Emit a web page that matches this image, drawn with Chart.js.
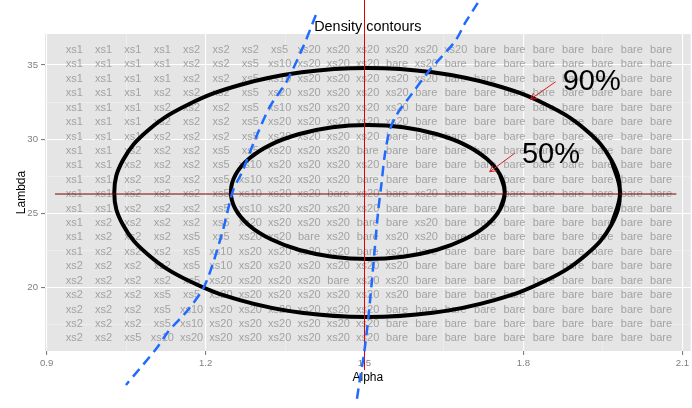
<!DOCTYPE html>
<html><head><meta charset="utf-8">
<script src="https://cdn.jsdelivr.net/npm/chart.js@4.4.1/dist/chart.umd.min.js"></script>
<style>html,body{margin:0;padding:0;background:#fff;}canvas{display:block;}</style>
</head><body>
<canvas id="c" width="692" height="408"></canvas>
<script>
// ---------- data ----------
const chartTitle = 'Density contours';
const xAxisTitle = 'Alpha';
const yAxisTitle = 'Lambda';
const xMin = 0.8968, xMax = 2.1157, yMin = 15.737, yMax = 37.088;
const xMajorTicks = [0.9, 1.2, 1.5, 1.8, 2.1];
const xTickLabels = ['0.9', '1.2', '1.5', '1.8', '2.1'];
const xMinorTicks = [1.05, 1.35, 1.65, 1.95];
const yMajorTicks = [20, 25, 30, 35];
const yTickLabels = ['20', '25', '30', '35'];
const yMinorTicks = [17.5, 22.5, 27.5, 32.5];

// grid of model labels (columns = alpha, rows = lambda, top row first)
const alphaGrid = [0.952, 1.0074, 1.0628, 1.1182, 1.1736, 1.2290, 1.2844, 1.3398, 1.3952, 1.4506, 1.5060,
  1.5614, 1.6168, 1.6722, 1.7276, 1.7830, 1.8384, 1.8938, 1.9492, 2.0046, 2.0600];
const lambdaGrid = [36.01, 35.04, 34.07, 33.10, 32.13, 31.16, 30.18, 29.21, 28.24, 27.27, 26.30,
  25.33, 24.36, 23.39, 22.42, 21.45, 20.47, 19.50, 18.53, 17.56, 16.59];
const modelLabels = [
  'xs1 xs1 xs1 xs1 xs2 xs2 xs2 xs5 xs20 xs20 xs20 xs20 xs20 xs20 bare bare bare bare bare bare bare',
  'xs1 xs1 xs1 xs1 xs2 xs2 xs5 xs10 xs20 xs20 xs20 bare xs20 bare bare bare bare bare bare bare bare',
  'xs1 xs1 xs1 xs1 xs2 xs2 xs5 xs10 xs20 xs20 xs20 xs20 xs20 bare bare bare bare bare bare bare bare',
  'xs1 xs1 xs1 xs2 xs2 xs2 xs5 xs20 xs20 xs20 xs20 xs20 bare bare bare bare bare bare bare bare bare',
  'xs1 xs1 xs1 xs2 xs2 xs2 xs5 xs10 xs20 xs20 xs20 xs20 bare bare bare bare bare bare bare bare bare',
  'xs1 xs1 xs1 xs2 xs2 xs2 xs5 xs20 xs20 xs20 xs20 xs20 bare bare bare bare bare bare bare bare bare',
  'xs1 xs1 xs1 xs2 xs2 xs2 xs5 xs20 xs20 xs20 xs20 bare bare bare bare bare bare bare bare bare bare',
  'xs1 xs1 xs2 xs2 xs2 xs5 xs5 xs20 xs20 xs20 bare bare bare bare bare bare bare bare bare bare bare',
  'xs1 xs1 xs2 xs2 xs2 xs5 xs10 xs20 xs20 xs20 xs20 bare bare bare bare bare bare bare bare bare bare',
  'xs1 xs1 xs2 xs2 xs2 xs5 xs10 xs20 xs20 xs20 bare bare bare bare bare bare bare bare bare bare bare',
  'xs1 xs1 xs2 xs2 xs2 xs5 xs10 xs20 xs20 bare xs20 bare xs20 bare bare bare bare bare bare bare bare',
  'xs1 xs1 xs2 xs2 xs2 xs5 xs10 xs20 xs20 xs20 xs20 bare bare bare bare bare bare bare bare bare bare',
  'xs1 xs2 xs2 xs2 xs2 xs5 xs20 xs20 xs20 xs20 bare bare xs20 bare bare bare bare bare bare bare bare',
  'xs1 xs2 xs2 xs2 xs5 xs5 xs20 xs20 bare xs20 bare xs20 xs20 bare bare bare bare bare bare bare bare',
  'xs1 xs2 xs2 xs2 xs5 xs10 xs20 xs20 xs20 xs20 bare xs20 bare bare bare bare bare bare bare bare bare',
  'xs2 xs2 xs2 xs2 xs5 xs10 xs20 xs20 xs20 xs20 xs20 xs20 bare bare bare bare bare bare bare bare bare',
  'xs2 xs2 xs2 xs2 xs5 xs20 xs20 xs20 xs20 bare xs20 xs20 bare bare bare bare bare bare bare bare bare',
  'xs2 xs2 xs2 xs5 xs5 xs20 xs20 xs20 xs20 xs20 xs20 xs20 bare bare bare bare bare bare bare bare bare',
  'xs2 xs2 xs2 xs5 xs10 xs20 xs20 xs20 xs20 xs20 xs20 bare bare bare bare bare bare bare bare bare bare',
  'xs2 xs2 xs2 xs5 xs10 xs20 xs20 xs20 xs20 xs20 xs20 bare bare bare bare bare bare bare bare bare bare',
  'xs2 xs2 xs5 xs10 xs20 xs20 xs20 xs20 xs20 xs20 xs20 bare bare bare bare bare bare bare bare bare bare'
].map(r => r.split(' '));

// density contours
const contour90X = [1.9661, 1.9824, 1.9661, 1.9184, 1.8426, 1.7437, 1.6286, 1.5050, 1.3814, 1.2663, 1.1674, 1.0916, 1.0439,
  1.0276, 1.0439, 1.0916, 1.1674, 1.2663, 1.3814, 1.5050, 1.6286, 1.7437, 1.8426, 1.9184, 1.9661, 1.9824, 1.9661];
const contour90Y = [24.24, 26.41, 28.58, 30.61, 32.34, 33.67, 34.51, 34.80, 34.51, 33.67, 32.34, 30.61, 28.58,
  26.41, 24.24, 22.22, 20.48, 19.15, 18.31, 18.03, 18.31, 19.15, 20.48, 22.22, 24.24, 26.41, 28.58];
const contour50X = [1.7559, 1.7647, 1.7559, 1.7301, 1.6890, 1.6355, 1.5731, 1.5062, 1.4393, 1.3770, 1.3234, 1.2823, 1.2565,
  1.2477, 1.2565, 1.2823, 1.3234, 1.3770, 1.4393, 1.5062, 1.5731, 1.6355, 1.6890, 1.7301, 1.7559, 1.7647, 1.7559];
const contour50Y = [25.28, 26.45, 27.61, 28.70, 29.64, 30.35, 30.81, 30.96, 30.81, 30.35, 29.64, 28.70, 27.61,
  26.45, 25.28, 24.19, 23.26, 22.54, 22.09, 21.93, 22.09, 22.54, 23.26, 24.19, 25.28, 26.45, 27.61];

// dashed boundary curves
const boundaryLeftX = [1.4081, 1.3842, 1.3528, 1.3213, 1.2930, 1.2679, 1.2521, 1.2302, 1.1987, 1.1666, 1.1294, 1.1075, 1.0496];
const boundaryLeftY = [38.37, 36.23, 33.88, 32.19, 29.95, 27.71, 26.58, 23.55, 20.18, 18.50, 17.04, 15.92, 13.45];
const boundaryRightX = [1.7138, 1.6911, 1.6704, 1.6232, 1.5855, 1.5604, 1.5477, 1.5383, 1.5321, 1.5257, 1.5194, 1.5132, 1.5072, 1.4992, 1.4911, 1.4849];
const boundaryRightY = [39.18, 37.90, 36.57, 34.66, 32.87, 31.63, 30.62, 28.94, 27.03, 25.12, 22.65, 20.18, 17.96, 15.58, 13.78, 12.32];

// reference lines
const vLineX = [1.5, 1.5], vLineY = [39.5, 14.46];
const hLineX = [0.9157, 2.0887], hLineY = [26.31, 26.31];

// annotations
const annoLabels = ['90%', '50%'];
const annoTextX = [1.9289, 1.8521];
const annoTextY = [33.32, 28.42];
const arrowFromX = [1.8609, 1.7836], arrowFromY = [33.875, 29.053];
const arrowToX = [1.8132, 1.7364], arrowToY = [32.690, 27.813];

// ---------- helpers ----------
const FONT = '"Liberation Sans", Arial, Helvetica, sans-serif';
const pts = (xs, ys) => xs.map((v, i) => ({x: v, y: ys[i]}));
const near = (arr, v) => arr.findIndex(a => Math.abs(a - v) < 1e-6);

const bgPlugin = {
  id: 'panelBg',
  beforeDraw(chart) {
    const {ctx, chartArea: a} = chart;
    ctx.save();
    ctx.fillStyle = '#e5e5e5';
    ctx.fillRect(a.left, a.top, a.right - a.left, a.bottom - a.top);
    ctx.restore();
  }
};

const gridTextPlugin = {
  id: 'gridText',
  beforeDatasetsDraw(chart) {
    const {ctx, scales: {x, y}} = chart;
    ctx.save();
    ctx.font = '11px ' + FONT;
    ctx.fillStyle = '#a3a3a3';
    ctx.textAlign = 'center';
    ctx.textBaseline = 'middle';
    modelLabels.forEach((row, r) => row.forEach((lab, c) => {
      ctx.fillText(lab, x.getPixelForValue(alphaGrid[c]), y.getPixelForValue(lambdaGrid[r]));
    }));
    ctx.restore();
  }
};

const annoPlugin = {
  id: 'annotations',
  afterDatasetsDraw(chart) {
    const {ctx, scales: {x, y}} = chart;
    ctx.save();
    ctx.strokeStyle = '#d42020';
    ctx.lineWidth = 1;
    for (let i = 0; i < annoLabels.length; i++) {
      const x1 = x.getPixelForValue(arrowFromX[i]), y1 = y.getPixelForValue(arrowFromY[i]);
      const x2 = x.getPixelForValue(arrowToX[i]), y2 = y.getPixelForValue(arrowToY[i]);
      const ang = Math.atan2(y2 - y1, x2 - x1), L = 7, sp = 0.5;
      ctx.beginPath();
      ctx.moveTo(x1, y1); ctx.lineTo(x2, y2);
      ctx.moveTo(x2 - L * Math.cos(ang - sp), y2 - L * Math.sin(ang - sp));
      ctx.lineTo(x2, y2);
      ctx.lineTo(x2 - L * Math.cos(ang + sp), y2 - L * Math.sin(ang + sp));
      ctx.stroke();
    }
    ctx.fillStyle = '#000';
    ctx.font = '29px ' + FONT;
    ctx.textAlign = 'center';
    ctx.textBaseline = 'alphabetic';
    for (let i = 0; i < annoLabels.length; i++) {
      ctx.fillText(annoLabels[i], x.getPixelForValue(annoTextX[i]), y.getPixelForValue(annoTextY[i]));
    }
    ctx.restore();
  }
};

const titlePlugin = {
  id: 'plotTitle',
  afterDraw(chart) {
    const {ctx, chartArea: a} = chart;
    ctx.save();
    ctx.font = '14.4px ' + FONT;
    ctx.fillStyle = '#000';
    ctx.textAlign = 'center';
    ctx.textBaseline = 'alphabetic';
    ctx.fillText(chartTitle, (a.left + a.right) / 2, 30.7);
    ctx.restore();
  }
};

const xTicksAll = [...xMajorTicks, ...xMinorTicks].sort((a, b) => a - b);
const yTicksAll = [...yMajorTicks, ...yMinorTicks].sort((a, b) => a - b);

function axisGrid(major) {
  return {
    color: c => (c.tick && near(major, c.tick.value) >= 0) ? '#ffffff' : '#f2f2f2',
    lineWidth: c => (c.tick && near(major, c.tick.value) >= 0) ? 1.1 : 0.6,
    tickColor: c => (c.tick && near(major, c.tick.value) >= 0) ? '#7f7f7f' : 'rgba(0,0,0,0)',
    tickLength: 4,
    drawTicks: true,
    drawOnChartArea: true
  };
}

new Chart(document.getElementById('c'), {
  type: 'scatter',
  data: {
    datasets: [
      {label: 'boundary left', data: pts(boundaryLeftX, boundaryLeftY), showLine: true, borderColor: '#1f6bff', borderWidth: 2.5,
        borderDash: [10, 6], pointRadius: 0, tension: 0.3, capBezierPoints: false, clip: false, order: 1},
      {label: 'boundary right', data: pts(boundaryRightX, boundaryRightY), showLine: true, borderColor: '#1f6bff', borderWidth: 2.5,
        borderDash: [10, 6], pointRadius: 0, tension: 0.3, capBezierPoints: false, clip: false, order: 1},
      {label: 'vline', data: pts(vLineX, vLineY), showLine: true, borderColor: '#e00000', borderWidth: 1, pointRadius: 0, tension: 0, clip: false, order: 2},
      {label: 'hline', data: pts(hLineX, hLineY), showLine: true, borderColor: '#7a0000', borderWidth: 1, pointRadius: 0, tension: 0, clip: false, order: 2},
      {label: '90%', data: pts(contour90X, contour90Y), showLine: true, borderColor: '#000', borderWidth: 4, pointRadius: 0, tension: 0.4, order: 3},
      {label: '50%', data: pts(contour50X, contour50Y), showLine: true, borderColor: '#000', borderWidth: 4, pointRadius: 0, tension: 0.4, order: 3}
    ]
  },
  options: {
    responsive: false,
    devicePixelRatio: 1,
    animation: false,
    events: [],
    layout: {padding: {top: 34, right: 1, left: 0, bottom: 0}},
    plugins: {legend: {display: false}, tooltip: {enabled: false}, title: {display: false}},
    scales: {
      x: {
        type: 'linear', min: xMin, max: xMax,
        afterFit: s => { s.height = 57; },
        afterBuildTicks: s => { s.ticks = xTicksAll.map(v => ({value: v})); },
        grid: axisGrid(xMajorTicks),
        border: {display: false},
        ticks: {autoSkip: false, maxRotation: 0, padding: 3, color: '#7f7f7f', font: {size: 9.6, family: FONT},
          callback: v => { const i = near(xMajorTicks, v); return i >= 0 ? xTickLabels[i] : ''; }},
        title: {display: true, text: xAxisTitle, color: '#000', font: {size: 12, family: FONT}, padding: {top: 0, bottom: 23}}
      },
      y: {
        type: 'linear', min: yMin, max: yMax,
        afterFit: s => { s.width = 45; },
        afterBuildTicks: s => { s.ticks = yTicksAll.map(v => ({value: v})); },
        grid: axisGrid(yMajorTicks),
        border: {display: false},
        ticks: {autoSkip: false, padding: 3, color: '#7f7f7f', font: {size: 9.6, family: FONT},
          callback: v => { const i = near(yMajorTicks, v); return i >= 0 ? yTickLabels[i] : ''; }},
        title: {display: true, text: yAxisTitle, color: '#000', font: {size: 12, family: FONT}, padding: {top: 14, bottom: 0}}
      }
    }
  },
  plugins: [bgPlugin, gridTextPlugin, annoPlugin, titlePlugin]
});
</script>
</body></html>
